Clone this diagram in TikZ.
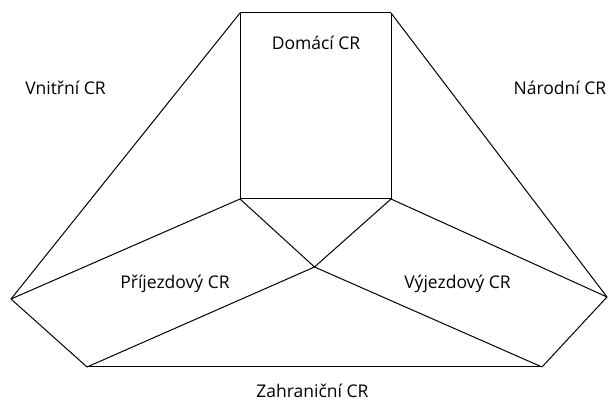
\documentclass[tikz,border=0pt]{standalone}
\usepackage{fontspec}
\setmainfont{Open Sans}
\usepackage{tikz}

\begin{document}
\begin{tikzpicture}[x=1pt, y=-1pt, line width=1pt,
		lbl/.style={font=\fontsize{17.5}{20}\selectfont}]
				\useasboundingbox (0, 0) rectangle (608, 403);
				\coordinate (sqtl) at (240, 13);
				\coordinate (sqtr) at (391, 13);
				\coordinate (sqbl) at (240, 199);
				\coordinate (sqbr) at (391, 199);
				\coordinate (mid) at (314.5, 267);
				\coordinate (left) at (11, 299);
				\coordinate (right) at (607, 297);
				\coordinate (botl) at (87, 367);
				\coordinate (botr) at (542, 367);
				% square
				\draw (sqtl) -- (sqtr);
				\draw (sqtr) -- (sqbr);
				\draw (sqbr) -- (sqbl);
				\draw (sqbl) -- (sqtl);
				% outer edges
				\draw (sqtl) -- (left);
				\draw (left) -- (botl);
				\draw (botl) -- (botr);
				\draw (botr) -- (right);
				\draw (right) -- (sqtr);
				% inner edges
				\draw (left) -- (sqbl);
				\draw (sqbl) -- (mid);
				\draw (mid) -- (sqbr);
				\draw (sqbr) -- (right);
				\draw (botl) -- (mid);
				\draw (mid) -- (botr);
				% labels
				\node [lbl] (domaci) at (316, 43) {Domácí CR};
				\node [lbl] (vnitrni) at (65.5, 88) {Vnitřní CR};
				\node [lbl] (narodni) at (560, 88) {Národní CR};
				\node [lbl] (prijezd) at (175, 284) {Příjezdový CR};
				\node [lbl] (vyjezd) at (457.5, 284) {Výjezdový CR};
				\node [lbl] (zahranicni) at (312.5, 391) {Zahraniční CR};
			\end{tikzpicture}
\end{document}
